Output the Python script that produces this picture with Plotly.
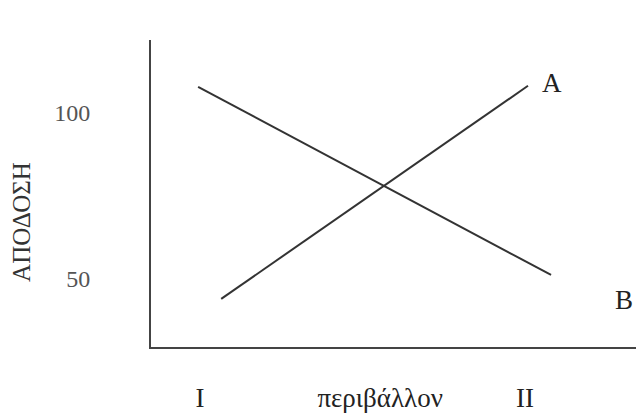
import plotly.graph_objects as go

# environment axis: I = 1, II = 2
env_x = [1.065, 2.009]
line_a = [44.0, 108.2]
env_x_b = [0.994, 2.08]
line_b = [107.9, 51.2]

x_ticks = [1, 1.554, 2]
x_labels = ["I", "περιβάλλον", "II"]
y_ticks = [50, 100]
y_labels = ["50", "100"]

serif = "Liberation Serif, Times New Roman, serif"
ink = "#333333"

fig = go.Figure()

fig.add_trace(go.Scatter(x=env_x, y=line_a, mode="lines",
                         line=dict(color=ink, width=2), name="A"))
fig.add_trace(go.Scatter(x=env_x_b, y=line_b, mode="lines",
                         line=dict(color=ink, width=2), name="B"))

# curve labels
fig.add_annotation(x=2.083, y=109.0, text="A", showarrow=False,
                   font=dict(family=serif, size=27, color="#222222"))
fig.add_annotation(x=2.305, y=43.7, text="B", showarrow=False,
                   font=dict(family=serif, size=27, color="#222222"))

# y axis title sits lower than the plot centre
fig.add_annotation(xref="paper", yref="paper", x=-0.264, y=0.407,
                   text="ΑΠΟΔΟΣΗ", textangle=-90, showarrow=False,
                   xanchor="center", yanchor="middle",
                   font=dict(family=serif, size=25, color="#333333"))

fig.update_xaxes(
    range=[0.849, 2.366],
    tickvals=x_ticks, ticktext=x_labels,
    showgrid=False, zeroline=False,
    showline=True, linecolor="#444444", linewidth=2,
    ticks="", ticklabelstandoff=26,
    tickfont=dict(family=serif, size=27, color="#222222"),
)
fig.update_yaxes(
    range=[29.5, 122.0],
    tickvals=y_ticks, ticktext=y_labels,
    showgrid=False, zeroline=False,
    showline=True, linecolor="#444444", linewidth=2,
    ticks="", ticklabelstandoff=54,
    tickfont=dict(family=serif, size=24, color="#555555"),
)

# the page body adds an 8px offset, so the figure is 8px smaller
fig.update_layout(
    width=636, height=408,
    margin=dict(l=143, r=0, t=32, b=69),
    paper_bgcolor="white", plot_bgcolor="white",
    showlegend=False,
)

fig.write_html("out.html")
